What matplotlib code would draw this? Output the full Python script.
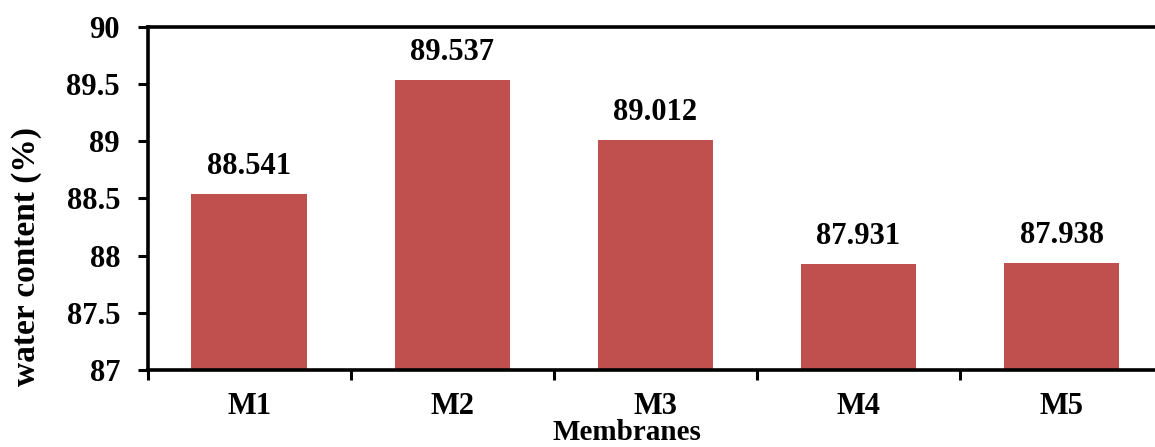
import numpy as np
import matplotlib.pyplot as plt

membranes = ['M1', 'M2', 'M3', 'M4', 'M5']
water = [88.541, 89.537, 89.012, 87.931, 87.938]
yticks = [87, 87.5, 88, 88.5, 89, 89.5, 90]
ytick_labels = ['87', '87.5', '88', '88.5', '89', '89.5', '90']

plt.rcParams['font.family'] = ['Liberation Serif', 'DejaVu Serif']
plt.rcParams['font.weight'] = 'bold'

fig = plt.figure(figsize=(11.55, 4.47), dpi=100)
ax = fig.add_axes([0.128, 0.172, 0.879, 0.768])

x = np.arange(len(membranes))
bars = ax.bar(x, water, width=0.57, color='#C0504D', bottom=0)
ax.set_ylim(87, 90)
ax.set_xlim(-0.5, 4.5)

for xi, v in zip(x, water):
    ax.annotate('%.3f' % v, (xi, v), xytext=(0, 9), textcoords='offset points',
                ha='center', va='bottom', fontsize=22, fontweight='bold')

ax.set_yticks(yticks)
ax.set_yticklabels(ytick_labels, fontsize=22, fontweight='bold')
ax.set_xticks(x)
ax.set_xticklabels(membranes, fontsize=22, fontweight='bold')
# category boundaries get the tick marks, labels sit in the middle
ax.set_xticks(np.arange(-0.5, 5, 1), minor=True)
ax.tick_params(axis='x', which='major', length=0, pad=16)
ax.tick_params(axis='x', which='minor', length=7, width=2.2, direction='out')
ax.tick_params(axis='y', length=7, width=2.2, direction='out', pad=13)

for s in ['left', 'bottom', 'top']:
    ax.spines[s].set_linewidth(2.6)
ax.spines['right'].set_visible(False)

fig.text(27 / 1155, 1 - 257 / 447, 'water content (%)', rotation=90,
         ha='center', va='center', fontsize=24, fontweight='bold')
fig.text(627 / 1155, 1 / 447, 'Membranes', ha='center', va='bottom',
         fontsize=21, fontweight='bold')

plt.savefig('out.png', dpi=100)
